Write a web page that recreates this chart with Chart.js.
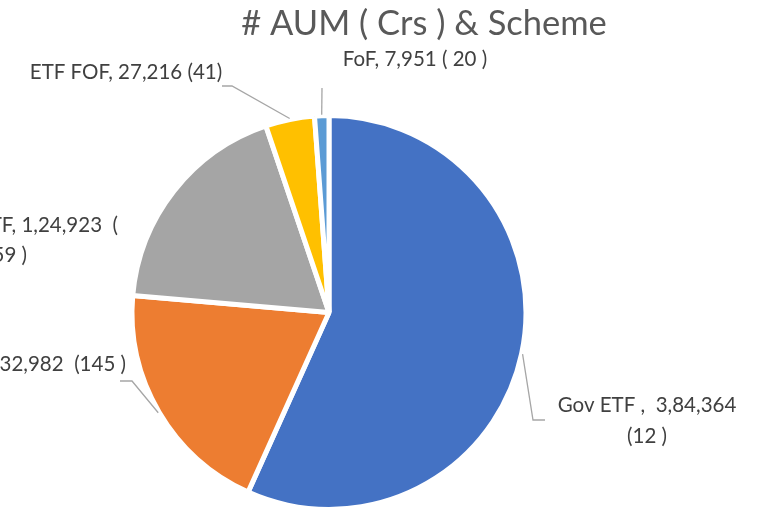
<!DOCTYPE html>
<html>
<head>
<meta charset="utf-8">
<script src="https://cdn.jsdelivr.net/npm/chart.js@4/dist/chart.umd.min.js"></script>
<style>
  html, body { margin: 0; padding: 0; background: #fff; }
  #wrap { width: 758px; height: 512px; }
</style>
</head>
<body>
<div id="wrap"><canvas id="aumChart" width="758" height="512"></canvas></div>
<script>
// Scheme categories, AUM (Crs) and scheme counts
const categories = ['Gov ETF', 'Equity ETF', 'Other ETF', 'ETF FOF', 'FoF'];
const aumValues = [384364, 132982, 124923, 27216, 7951];
const aumLabels = ['3,84,364', '1,32,982', '1,24,923', '27,216', '7,951'];
const schemeCounts = ['12 ', '145 ', ' 59 ', '41', ' 20 '];
const sliceColors = ['#4472C4', '#ED7D31', '#A5A5A5', '#FFC000', '#5B9BD5'];

// label text lines, as they appear on the chart
const labelLines = [
    [categories[0] + ' ,  ' + aumLabels[0], '(' + schemeCounts[0] + ')'],
    [categories[1] + ', ' + aumLabels[1] + '  (' + schemeCounts[1] + ')'],
    [categories[2] + ', ' + aumLabels[2] + '  (', schemeCounts[2].trim() + ' )'],
    [categories[3] + ', ' + aumLabels[3] + ' (' + schemeCounts[3] + ')'],
    [categories[4] + ', ' + aumLabels[4] + ' (' + schemeCounts[4] + ')']
];

// where each label sits and how its leader line bends (layout only)
const labelLayout = [
    { lines: [[647, 405, 'center'], [647, 436, 'center']], leader: [[533, 420], [545, 420]] },
    { lines: [[126, 364, 'right']], leader: [[132, 381], [120, 381]] },
    { lines: [[118, 225, 'right'], [27, 255, 'right']], leader: null },
    { lines: [[126, 72, 'center']], leader: [[232, 86], [222, 86]] },
    { lines: [[415, 59, 'center']], leader: [[322, 88]] }
];

const pieLabels = {
    id: 'pieLabels',
    afterDraw(chart) {
        const ctx = chart.ctx;
        const arcs = chart.getDatasetMeta(0).data;
        ctx.save();

        // title
        ctx.fillStyle = '#595959';
        ctx.font = '34.5px Lato, "Open Sans", sans-serif';
        ctx.textAlign = 'center';
        ctx.textBaseline = 'middle';
        ctx.fillText('# AUM ( Crs ) & Scheme', 424, 24);

        arcs.forEach(function(arc, i) {
            const p = arc.getProps(['x', 'y', 'startAngle', 'endAngle', 'outerRadius'], true);
            const mid = (p.startAngle + p.endAngle) / 2;
            const lay = labelLayout[i];

            if (lay.leader) {
                const r = p.outerRadius + 1;
                ctx.beginPath();
                ctx.strokeStyle = '#A6A6A6';
                ctx.lineWidth = 1.3;
                ctx.moveTo(p.x + Math.cos(mid) * r, p.y + Math.sin(mid) * r);
                lay.leader.forEach(function(pt) { ctx.lineTo(pt[0], pt[1]); });
                ctx.stroke();
            }

            ctx.fillStyle = '#404040';
            ctx.font = '20.5px Lato, "Open Sans", sans-serif';
            ctx.textBaseline = 'middle';
            labelLines[i].forEach(function(text, j) {
                const pos = lay.lines[j];
                ctx.textAlign = pos[2];
                ctx.fillText(text, pos[0], pos[1]);
            });
        });
        ctx.restore();
    }
};

const ctx = document.getElementById('aumChart').getContext('2d');
new Chart(ctx, {
    type: 'pie',
    data: {
        labels: categories,
        datasets: [{
            data: aumValues,
            backgroundColor: sliceColors,
            borderColor: '#ffffff',
            borderWidth: 5
        }]
    },
    options: {
        responsive: false,
        animation: false,
        layout: {
            padding: { left: 128, right: 228, top: 113, bottom: 0 }
        },
        plugins: {
            legend: { display: false },
            title: { display: false },
            tooltip: { enabled: false }
        }
    },
    plugins: [pieLabels]
});
</script>
</body>
</html>
